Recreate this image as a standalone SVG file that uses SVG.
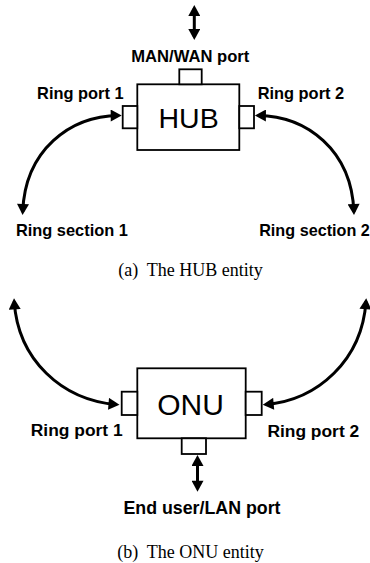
<svg xmlns="http://www.w3.org/2000/svg" width="370" height="563" viewBox="0 0 370 563">
  <style>
    .box { fill: #fff; stroke: #000; stroke-width: 1.8; }
    .port { fill: #fff; stroke: #000; stroke-width: 1.8; }
    .link { fill: none; stroke: #000; stroke-width: 3; marker-start: url(#head); marker-end: url(#head); }
    .lbl { font-family: "Liberation Sans", Arial, sans-serif; font-weight: bold; fill: #000; text-anchor: middle; }
    .name { font-family: "Liberation Sans", Arial, sans-serif; fill: #000; text-anchor: middle; }
    .cap { font-family: "Liberation Serif", "Times New Roman", serif; fill: #000; text-anchor: middle; }
  </style>
  <defs>
    <marker id="head" markerUnits="userSpaceOnUse" markerWidth="12" markerHeight="12" refX="8" refY="6" orient="auto-start-reverse" viewBox="0 0 11 12">
      <path d="M0,0 L11,6 L0,12 z" fill="#000"/>
    </marker>
  </defs>
  <rect width="370" height="563" fill="#fff"/>

  <!-- HUB entity -->
  <g id="hub">
    <rect class="box" x="137.3" y="84.3" width="102" height="65.7"/>
    <text class="name" x="188.6" y="128.3" font-size="28.5">HUB</text>
  </g>
  <g id="hub-wan-port">
    <rect class="port" x="179.3" y="69.3" width="22.4" height="15"/>
    <text class="lbl" x="190.3" y="62" font-size="16.6">MAN/WAN port</text>
  </g>
  <g id="hub-ring-port-1">
    <rect class="port" x="122.7" y="106" width="14.6" height="22.3"/>
    <text class="lbl" x="80.3" y="98.5" font-size="16.4">Ring port 1</text>
  </g>
  <g id="hub-ring-port-2">
    <rect class="port" x="239.3" y="106" width="14.7" height="22.3"/>
    <text class="lbl" x="300.9" y="98.5" font-size="16.4">Ring port 2</text>
  </g>
  <g id="hub-ring-section-1">
    <text class="lbl" x="71.9" y="236" font-size="16.4">Ring section 1</text>
  </g>
  <g id="hub-ring-section-2">
    <text class="lbl" x="314.5" y="236" font-size="16.2">Ring section 2</text>
  </g>
  <text class="cap" x="190.5" y="276" font-size="18" xml:space="preserve">(a)  The HUB entity</text>

  <!-- ONU entity -->
  <g id="onu">
    <rect class="box" x="137.3" y="368.3" width="108.4" height="70"/>
    <text class="name" x="190.5" y="415" font-size="30">ONU</text>
  </g>
  <g id="onu-ring-port-1">
    <rect class="port" x="121.7" y="391.7" width="15.6" height="23.3"/>
    <text class="lbl" x="76.7" y="436" font-size="17.4">Ring port 1</text>
  </g>
  <g id="onu-ring-port-2">
    <rect class="port" x="245.7" y="391.7" width="16" height="23.3"/>
    <text class="lbl" x="313.3" y="436.5" font-size="17.4">Ring port 2</text>
  </g>
  <g id="onu-lan-port">
    <rect class="port" x="181.7" y="438.3" width="24.3" height="15.7"/>
    <text class="lbl" x="202" y="514" font-size="17.8">End user/LAN port</text>
  </g>
  <text class="cap" x="190.5" y="557.7" font-size="18" xml:space="preserve">(b)  The ONU entity</text>

  <!-- connectors -->
  <g id="connectors">
    <path class="link" d="M194.3,8 V37"/>
    <path class="link" d="M22.7,212 C25,150 70,116 118.7,115.5"/>
    <path class="link" d="M353.9,212 C351.6,150 306.6,116 257.9,115.5"/>
    <path class="link" d="M14.2,301.3 C18,360 62,400 116.5,404.5"/>
    <path class="link" d="M366,301.3 C362,360 318,400 265.7,404.5"/>
    <path class="link" d="M197.5,458 V488.7"/>
  </g>
</svg>
